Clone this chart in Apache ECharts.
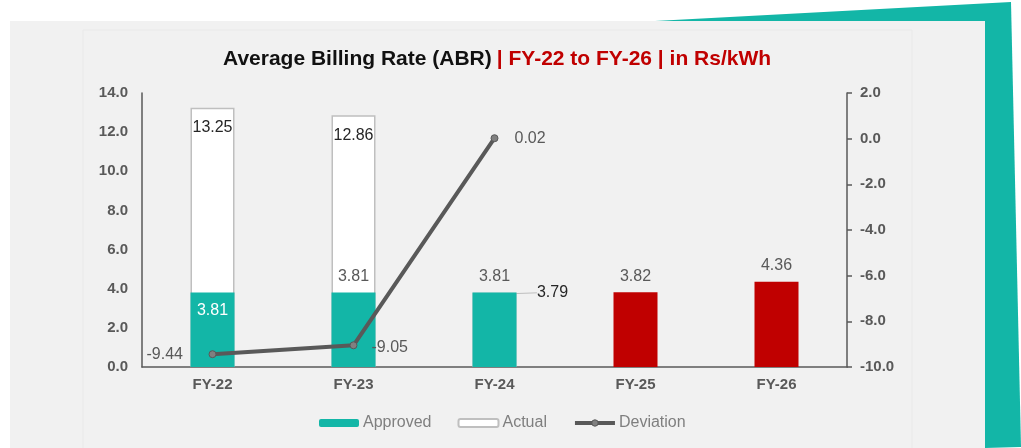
<!DOCTYPE html>
<html>
<head>
<meta charset="utf-8">
<script src="https://cdn.jsdelivr.net/npm/echarts@6/dist/echarts.min.js"></script>
<style>
  html, body { margin: 0; padding: 0; background: #fff; }
  #chart { width: 1021px; height: 448px; }
</style>
</head>
<body>
<div id="chart"></div>
<script>
var categories = ['FY-22', 'FY-23', 'FY-24', 'FY-25', 'FY-26'];
var approved = [3.81, 3.81, 3.81, 3.82, 4.36];
var actual = [13.25, 12.86, 3.79, null, null];
var deviation = [-9.44, -9.05, 0.02, null, null];
var leftTicks = [0, 14, 2];
var rightTicks = [-10, 2, 2];

var TEAL = '#13b6a7';
var RED = '#c00000';
var GREY = '#595959';
var FONT = 'Liberation Sans, Arial, sans-serif';

var dom = document.getElementById('chart');
var myChart = echarts.init(dom);

var approvedData = approved.map(function(v, i) {
    var item = { value: v };
    if (i >= 3) {
        item.itemStyle = { color: RED };
    }
    if (i === 0) {
        item.label = { position: 'insideTop', distance: 10, color: '#fff' };
    }
    return item;
});

var option = {
    backgroundColor: '#fff',
    animation: false,
    textStyle: { fontFamily: FONT },
    graphic: [{
        type: 'polygon',
        z: -10,
        shape: { points: [[655, 21], [1011, 2], [1021, 447], [985, 448]] },
        style: { fill: TEAL }
    }, {
        type: 'rect',
        z: -9,
        shape: { x: 10, y: 21, width: 975, height: 427 },
        style: { fill: '#f1f1f1' }
    }, {
        type: 'rect',
        z: -8,
        shape: { x: 83, y: 30, width: 829, height: 430 },
        style: { fill: 'none', stroke: '#e9e9e9', lineWidth: 1 }
    }],
    title: {
        left: 218,
        top: 44,
        text: '{a|Average Billing Rate (ABR)} {b|| FY-22 to FY-26 | in Rs/kWh}',
        textStyle: {
            rich: {
                a: { fontSize: 21, fontWeight: 'bold', color: '#111', fontFamily: FONT },
                b: { fontSize: 21, fontWeight: 'bold', color: RED, fontFamily: FONT }
            }
        }
    },
    legend: {
        bottom: 12,
        left: 314,
        itemWidth: 40,
        itemHeight: 8,
        itemGap: 26,
        data: ['Approved', 'Actual', {
            name: 'Deviation',
            lineStyle: { width: 4, color: GREY },
            itemStyle: { color: '#808080', borderColor: GREY, borderWidth: 1 }
        }],
        textStyle: { color: '#7f7f7f', fontSize: 16, padding: [0, 0, 0, -1] }
    },
    grid: { left: 142, right: 174, top: 93, bottom: 81 },
    xAxis: {
        type: 'category',
        data: categories,
        axisLine: { lineStyle: { color: GREY, width: 1.5 } },
        axisTick: { show: false },
        axisLabel: { color: GREY, fontWeight: 'bold', fontSize: 15, margin: 10 }
    },
    yAxis: [{
        type: 'value',
        min: leftTicks[0],
        max: leftTicks[1],
        interval: leftTicks[2],
        axisLine: { show: true, lineStyle: { color: GREY, width: 1.5 } },
        axisTick: { show: false },
        splitLine: { show: false },
        axisLabel: {
            color: GREY, fontWeight: 'bold', fontSize: 15, margin: 14,
            formatter: function(v) { return v.toFixed(1); }
        }
    }, {
        type: 'value',
        min: rightTicks[0],
        max: rightTicks[1],
        interval: rightTicks[2],
        position: 'right',
        axisLine: { show: true, lineStyle: { color: GREY, width: 1.5 } },
        axisTick: { show: true, length: 5, lineStyle: { color: GREY, width: 1.5 } },
        splitLine: { show: false },
        axisLabel: {
            color: GREY, fontWeight: 'bold', fontSize: 15, margin: 13,
            formatter: function(v) { return v.toFixed(1); }
        }
    }],
    series: [{
        name: 'Actual',
        type: 'bar',
        barWidth: 44,
        data: actual,
        itemStyle: { color: '#fff', borderColor: '#bfbfbf', borderWidth: 1.5 },
        label: {
            show: true,
            position: 'insideTop',
            distance: 12,
            color: '#262626',
            fontSize: 16,
            formatter: function(p) { return p.value.toFixed(2); }
        },
        labelLine: { show: true, lineStyle: { color: '#bfbfbf', width: 1 } },
        labelLayout: function(p) {
            if (p.dataIndex === 2) {
                return { dx: 58, dy: -20 };
            }
            return {};
        }
    }, {
        name: 'Approved',
        type: 'bar',
        barWidth: 44,
        barGap: '-100%',
        data: approvedData,
        itemStyle: { color: TEAL },
        label: {
            show: true,
            position: 'top',
            distance: 8,
            color: GREY,
            fontSize: 16,
            formatter: function(p) { return p.value.toFixed(2); }
        }
    }, {
        name: 'Deviation',
        type: 'line',
        yAxisIndex: 1,
        data: deviation,
        symbol: 'circle',
        symbolSize: 7,
        lineStyle: { color: GREY, width: 4 },
        itemStyle: { color: '#808080', borderColor: GREY, borderWidth: 1 },
        z: 5,
        label: {
            show: true,
            position: 'right',
            distance: 16,
            color: GREY,
            fontSize: 16,
            formatter: function(p) { return p.value.toFixed(2); }
        },
        labelLayout: function(p) {
            if (p.dataIndex === 0) {
                return { dx: -86 };
            }
            if (p.dataIndex === 1) {
                return { dx: -2, dy: 2 };
            }
            return {};
        }
    }]
};
myChart.setOption(option, true);
</script>
</body>
</html>
